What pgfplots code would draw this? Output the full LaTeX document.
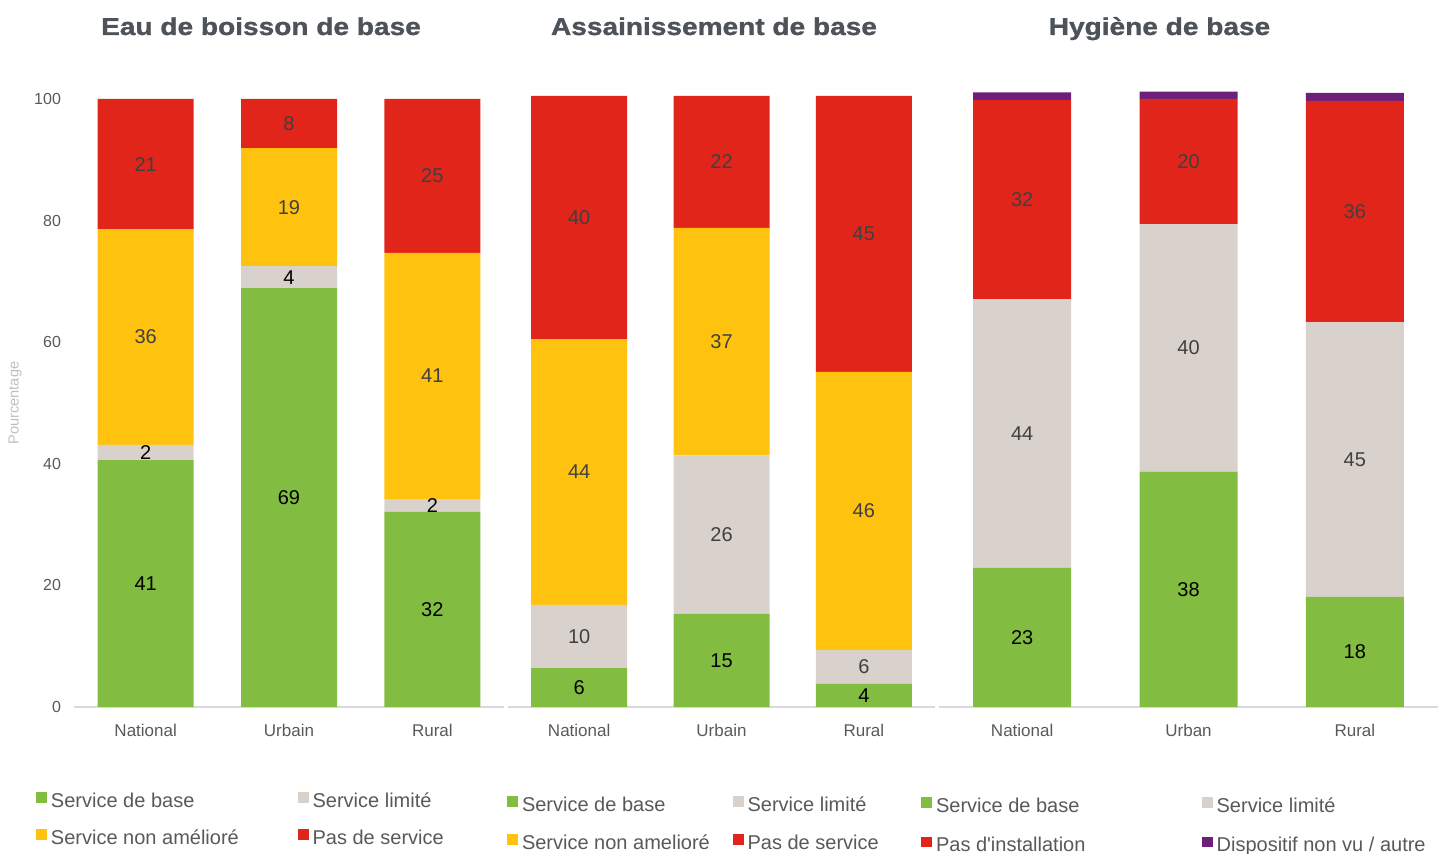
\documentclass[border=0pt]{standalone}
\usepackage{fontspec}
\setmainfont{Liberation Sans}
\newfontfamily\titlefont[FakeStretch=1.15,FakeBold=1.2]{Liberation Sans Bold}
\usepackage{pgfplots}
\pgfplotsset{compat=1.18}
\definecolor{cgreen}{HTML}{82BC41}
\definecolor{cgrey}{HTML}{D9D2CC}
\definecolor{cyellow}{HTML}{FFC20E}
\definecolor{cred}{HTML}{E1251B}
\definecolor{cpurple}{HTML}{6D1F7A}
\definecolor{ctext}{HTML}{595959}
\definecolor{ctitle}{HTML}{4D5359}
\definecolor{caxis}{HTML}{D9D9D9}
\definecolor{clab}{HTML}{404040}
\definecolor{cylab}{HTML}{BFBFBF}

\pgfplotsset{
  base/.style={
    scale only axis, height=310.08pt, ymin=0, ymax=102,
    xmin=-0.5, xmax=2.5, anchor=south west,
    /pgf/number format/assume math mode=true,
  },
  main/.style={
    base, ybar stacked,
    axis x line*=bottom, axis y line*=left,
    x axis line style={-,draw=caxis,line width=0.75pt},
    y axis line style={draw=none},
    major tick length=0pt, tick style={draw=none},
    xtick={0,1,2},
    xticklabel style={font=\fontsize{8.5}{10}\selectfont, text=ctext, yshift=-5pt},
    yticklabel style={font=\fontsize{8}{10}\selectfont, text=ctext, xshift=-3pt},
    legend columns=2, legend cell align=left,
    legend image code/.code={\fill[##1] (0pt,-2.65pt) rectangle (5.3pt,2.65pt);},
  },
  labs/.style={
    base, hide axis,
  },
  lab/.style={draw=none, mark=none, nodes near coords, point meta=explicit symbolic,
    nodes near coords align=center,
    every node near coord/.append style={font=\fontsize{10}{12}\selectfont, text=#1, anchor=center}},
  lstyle/.style n args={4}{legend style={at={(axis description cs:#1,#2)}, anchor=north west,
    draw=none, fill=none, inner sep=0pt, column sep=0pt, row sep=#3,
    font=\fontsize{10}{12}\selectfont, text=ctext,
    nodes={inner sep=0pt, text height=10pt, text depth=0pt}}},
}
\newcommand{\lent}[2]{\makebox[#1][l]{\hspace{2pt}#2}}
\newcommand{\sq}{\XeTeXglyph\XeTeXcharglyph"0027\relax}

\begin{document}
\begin{tikzpicture}
\useasboundingbox (0,0) rectangle (725pt,427pt);

% ---------- Panel 1 ----------
\begin{axis}[main, at={(37pt,73.5pt)}, width=215pt, bar width=48pt,
  xticklabels={National,Urbain,Rural},
  ytick={0,20,40,60,80,100},
  ylabel={Pourcentage},
  every axis y label/.style={at={(axis description cs:-0.137,0.49)}, rotate=90, anchor=center,
    font=\fontsize{7.3}{9}\selectfont, text=cylab},
  lstyle={-0.0884}{-0.129}{8.5pt}]
\addplot[fill=cgreen, draw=none] coordinates {(0,40.6) (1,68.9) (2,32.1)};
\addlegendentry{\lent{125.5pt}{Service de base}}
\addplot[fill=cgrey, draw=none] coordinates {(0,2.5) (1,3.6) (2,2.1)};
\addlegendentry{\lent{125.5pt}{Service limité}}
\addplot[fill=cyellow, draw=none] coordinates {(0,35.5) (1,19.4) (2,40.5)};
\addlegendentry{\lent{125.5pt}{Service non amélioré}}
\addplot[fill=cred, draw=none] coordinates {(0,21.4) (1,8.1) (2,25.3)};
\addlegendentry{\lent{125.5pt}{Pas de service}}
\end{axis}
\begin{axis}[labs, at={(37pt,73.5pt)}, width=215pt]
\addplot[lab=black] table[meta=lab] {
x y lab
0 20.3 41
1 34.45 69
2 16.05 32
0 41.85 2
1 70.7 4
2 33.15 2
};
\addplot[lab=clab] table[meta=lab] {
x y lab
0 60.85 36
1 82.2 19
2 54.45 41
0 89.3 21
1 96.0 8
2 87.35 25
};
\end{axis}

% ---------- Panel 2 ----------
\begin{axis}[main, at={(254pt,73.5pt)}, width=213.5pt, bar width=48pt,
  xticklabels={National,Urbain,Rural},
  ytick=\empty,
  lstyle={-0.0023}{-0.1355}{9pt}]
\addplot[fill=cgreen, draw=none] coordinates {(0,6.4) (1,15.3) (2,3.8)};
\addlegendentry{\lent{107.5pt}{Service de base}}
\addplot[fill=cgrey, draw=none] coordinates {(0,10.4) (1,26.1) (2,5.6)};
\addlegendentry{\lent{107.5pt}{Service limité}}
\addplot[fill=cyellow, draw=none] coordinates {(0,43.7) (1,37.4) (2,45.7)};
\addlegendentry{\lent{107.5pt}{Service non amelioré}}
\addplot[fill=cred, draw=none] coordinates {(0,40.0) (1,21.7) (2,45.4)};
\addlegendentry{\lent{107.5pt}{Pas de service}}
\end{axis}
\begin{axis}[labs, at={(254pt,73.5pt)}, width=213.5pt]
\addplot[lab=black] table[meta=lab] {
x y lab
0 3.2 6
1 7.65 15
2 1.9 4
};
\addplot[lab=clab] table[meta=lab] {
x y lab
0 11.6 10
1 28.35 26
2 6.6 6
0 38.65 44
1 60.1 37
2 32.25 46
0 80.5 40
1 89.65 22
2 77.8 45
};
\end{axis}

% ---------- Panel 3 ----------
\begin{axis}[main, at={(469.5pt,73.5pt)}, width=249.5pt, bar width=49pt,
  xticklabels={National,Urban,Rural},
  ytick=\empty,
  lstyle={-0.036}{-0.137}{9.8pt}]
\addplot[fill=cgreen, draw=none] coordinates {(0,22.9) (1,38.7) (2,18.1)};
\addlegendentry{\lent{135pt}{Service de base}}
\addplot[fill=cgrey, draw=none] coordinates {(0,44.2) (1,40.7) (2,45.2)};
\addlegendentry{\lent{135pt}{Service limité}}
\addplot[fill=cred, draw=none] coordinates {(0,32.7) (1,20.6) (2,36.4)};
\addlegendentry{\lent{135pt}{Pas d\sq installation}}
\addplot[fill=cpurple, draw=none] coordinates {(0,1.3) (1,1.2) (2,1.3)};
\addlegendentry{\lent{135pt}{Dispositif non vu / autre}}
\end{axis}
\begin{axis}[labs, at={(469.5pt,73.5pt)}, width=249.5pt]
\addplot[lab=black] table[meta=lab] {
x y lab
0 11.45 23
1 19.35 38
2 9.05 18
};
\addplot[lab=clab] table[meta=lab] {
x y lab
0 45.0 44
1 59.05 40
2 40.7 45
0 83.45 32
1 89.7 20
2 81.5 36
};
\end{axis}

% ---------- Titles ----------
\node[anchor=base, font=\titlefont\fontsize{12.2}{14}\selectfont, text=ctitle] at (130.5pt,409.5pt) {Eau de boisson de base};
\node[anchor=base, font=\titlefont\fontsize{12.2}{14}\selectfont, text=ctitle] at (357pt,409.5pt) {Assainissement de base};
\node[anchor=base, font=\titlefont\fontsize{12.2}{14}\selectfont, text=ctitle] at (579.75pt,409.5pt) {Hygiène de base};
\end{tikzpicture}
\end{document}
